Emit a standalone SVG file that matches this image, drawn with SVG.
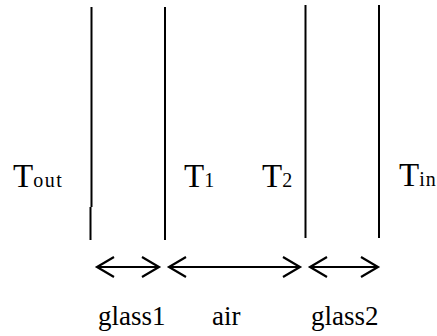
<svg xmlns="http://www.w3.org/2000/svg" width="437" height="336" viewBox="0 0 437 336">
<style>
.wall{stroke:#000;stroke-width:2;fill:none}
.arr{stroke:#000;stroke-width:2;fill:none}
.t{font-family:"Liberation Serif","Times New Roman",serif;font-size:33px;fill:#000}
.sub{font-size:20px}
.lbl{font-family:"Liberation Serif","Times New Roman",serif;font-size:27px;fill:#000}
</style>
<defs>
<marker id="chev" markerUnits="userSpaceOnUse" viewBox="-20 -12 24 24" refX="0" refY="0" markerWidth="24" markerHeight="24" orient="auto-start-reverse">
<path d="M -17 -10 L 0 0 L -17 10" fill="none" stroke="#000" stroke-width="2.2"/>
</marker>
</defs>
<rect width="437" height="336" fill="#fff"/>
<g id="wall-glass1-outer"><path class="wall" d="M91.5 7 V207 M90.5 207 V240"/></g>
<g id="wall-glass1-inner"><path class="wall" d="M165 7 V240"/></g>
<g id="wall-glass2-inner"><path class="wall" d="M305.5 5 V238"/></g>
<g id="wall-glass2-outer"><path class="wall" d="M379 5 V238"/></g>
<g id="temps">
<text class="t" x="13" y="187">T<tspan class="sub" letter-spacing="1.5">out</tspan></text>
<text class="t" x="184" y="187">T<tspan class="sub">1</tspan></text>
<text class="t" x="262" y="187">T<tspan class="sub">2</tspan></text>
<text class="t" x="399" y="186">T<tspan class="sub" letter-spacing="1">in</tspan></text>
</g>
<g id="connectors">
<line class="arr" x1="97" y1="267" x2="159" y2="267" marker-start="url(#chev)" marker-end="url(#chev)"/>
<line class="arr" x1="169" y1="267" x2="300" y2="267" marker-start="url(#chev)" marker-end="url(#chev)"/>
<line class="arr" x1="310" y1="267" x2="378" y2="267" marker-start="url(#chev)" marker-end="url(#chev)"/>
</g>
<g id="labels">
<text class="lbl" x="98" y="325">glass1</text>
<text class="lbl" x="212" y="325">air</text>
<text class="lbl" x="311" y="325">glass2</text>
</g>
</svg>
